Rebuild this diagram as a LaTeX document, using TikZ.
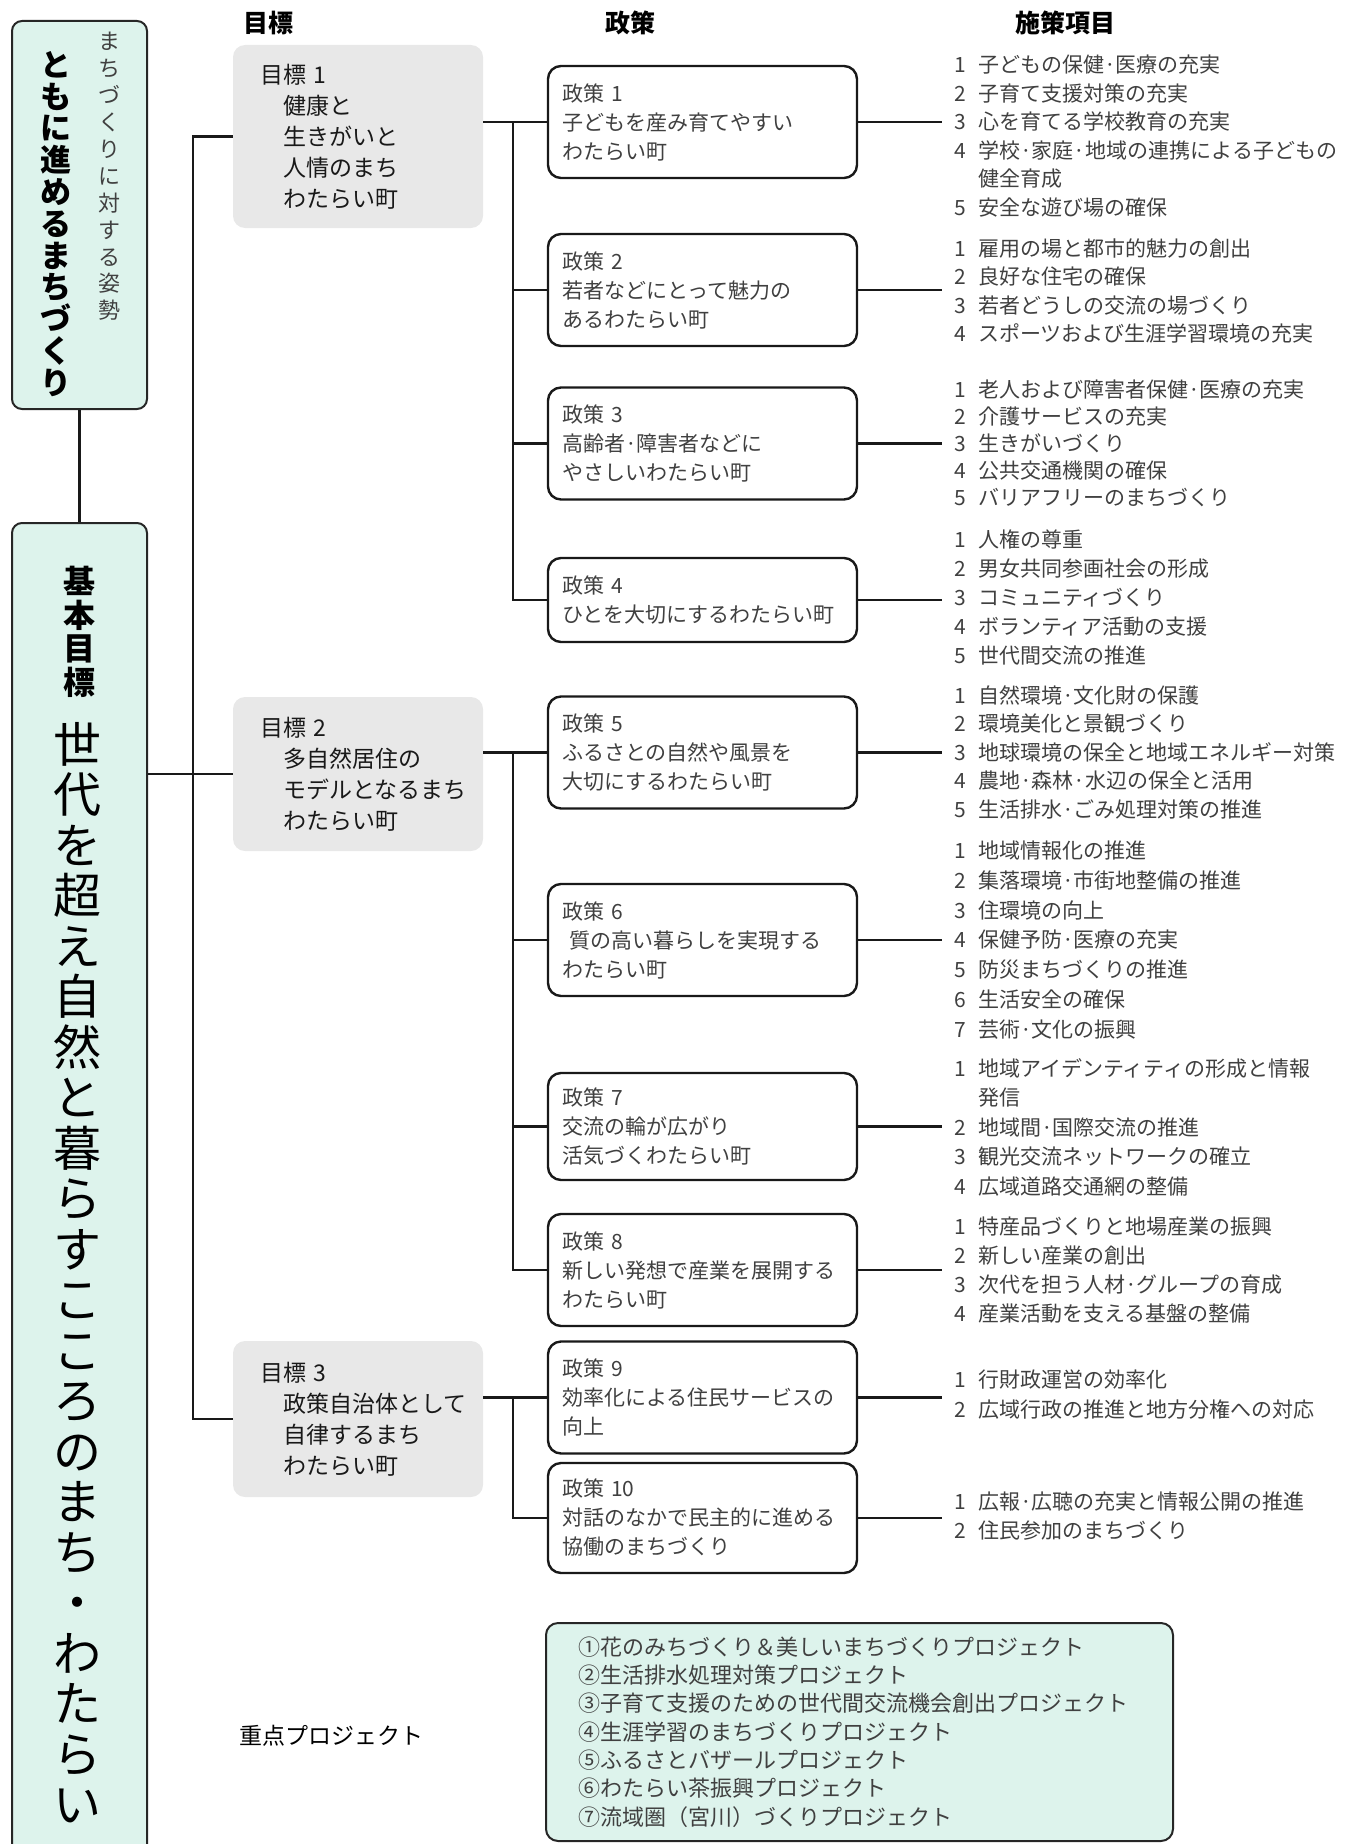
\documentclass[tikz,border=0pt]{standalone}
\usepackage{fontspec}
\setmainfont{Noto Sans CJK JP}
\usepackage{tikz}
\usetikzlibrary{positioning,calc}
\definecolor{mint}{RGB}{221,243,236}
\definecolor{paleg}{RGB}{232,232,232}
\definecolor{txtg}{RGB}{64,64,64}
\newcommand{\itm}[2]{\makebox[24pt][l]{#1}#2}

\begin{document}
\begin{tikzpicture}[x=1pt,y=-1pt,
  lbox/.style={rectangle,draw=black!85,line width=2pt,fill=mint,rounded corners=10pt,minimum width=135pt},
  goal/.style={rectangle,fill=paleg,rounded corners=12pt,text width=196pt,inner xsep=27pt,inner ysep=0pt,align=left,text=black!90,font=\fontsize{23}{31}\selectfont},
  pol/.style={rectangle,draw=black!90,line width=2.4pt,rounded corners=13pt,fill=white,text width=281pt,inner xsep=14pt,inner ysep=0pt,minimum height=112pt,align=left,text=txtg,font=\fontsize{21}{29}\selectfont},
  items/.style={anchor=west,inner xsep=12pt,inner ysep=0pt,align=left,text=txtg,font=\fontsize{21}{28.5}\selectfont},
  head/.style={font=\fontsize{25}{25}\bfseries},
  link/.style={line width=2.2pt,draw=black!90}]
\useasboundingbox (0,0) rectangle (1348,1844);
\clip (0,0) rectangle (1348,1844);
\node [head] (hg) at (268,23) {目標};
\node [head] (hp) at (630,23) {政策};
\node [head] (hi) at (1065,23) {施策項目};
\node [lbox,minimum height=388pt] (kamae) at (79.5,215) {};
\node [align=center,text=txtg,font=\fontsize{22}{26.9}\selectfont] (kamaes) at (109,176.5) {ま\\ち\\づ\\く\\り\\に\\対\\す\\る\\姿\\勢};
\node [align=center,font=\fontsize{31}{31.8}\bfseries] (kamaem) at (56,224) {と\\も\\に\\進\\め\\る\\ま\\ち\\づ\\く\\り};
\node [lbox,minimum height=1347pt] (kihon) at (79.5,1196.5) {};
\node [align=center,font=\fontsize{32}{33.5}\bfseries] (kihonl) at (79,632) {基\\本\\目\\標};
\node [align=center,font=\fontsize{48}{50.5}\selectfont] (kihonm) at (77,1272.5) {世\\代\\を\\超\\え\\自\\然\\と\\暮\\ら\\す\\こ\\こ\\ろ\\の\\ま\\ち\\・\\わ\\た\\ら\\い};
\node [goal,minimum height=183pt] (g1) at (358,136.5) {目標 1\\\hspace*{1em}健康と\\\hspace*{1em}生きがいと\\\hspace*{1em}人情のまち\\\hspace*{1em}わたらい町};
\node [goal,minimum height=154pt] (g2) at (358,774) {目標 2\\\hspace*{1em}多自然居住の\\\hspace*{1em}モデルとなるまち\\\hspace*{1em}わたらい町};
\node [goal,minimum height=156pt] (g3) at (358,1419) {目標 3\\\hspace*{1em}政策自治体として\\\hspace*{1em}自律するまち\\\hspace*{1em}わたらい町};
\node [pol] (p1) at (702.5,122) {政策 1\\子どもを産み育てやすい\\わたらい町};
\node [pol] (p2) at (702.5,290) {政策 2\\若者などにとって魅力の\\あるわたらい町};
\node [pol] (p3) at (702.5,443.5) {政策 3\\高齢者·障害者などに\\やさしいわたらい町};
\node [pol,minimum height=84pt] (p4) at (702.5,600) {政策 4\\ひとを大切にするわたらい町};
\node [pol] (p5) at (702.5,752.5) {政策 5\\ふるさとの自然や風景を\\大切にするわたらい町};
\node [pol] (p6) at (702.5,940) {政策 6\\\hspace*{0.35em}質の高い暮らしを実現する\\わたらい町};
\node [pol,minimum height=107pt] (p7) at (702.5,1126.5) {政策 7\\交流の輪が広がり\\活気づくわたらい町};
\node [pol] (p8) at (702.5,1270) {政策 8\\新しい発想で産業を展開する\\わたらい町};
\node [pol] (p9) at (702.5,1397.5) {政策 9\\効率化による住民サービスの\\向上};
\node [pol,minimum height=110pt] (p10) at (702.5,1518) {政策 10\\対話のなかで民主的に進める\\協働のまちづくり};
\node [items] (i1) at (942,136) {\itm{1}{子どもの保健·医療の充実}\\\itm{2}{子育て支援対策の充実}\\\itm{3}{心を育てる学校教育の充実}\\\itm{4}{学校·家庭·地域の連携による子どもの}\\\itm{}{健全育成}\\\itm{5}{安全な遊び場の確保}};
\node [items] (i2) at (942,291) {\itm{1}{雇用の場と都市的魅力の創出}\\\itm{2}{良好な住宅の確保}\\\itm{3}{若者どうしの交流の場づくり}\\\itm{4}{スポーツおよび生涯学習環境の充実}};
\node [items,font=\fontsize{21}{27}\selectfont] (i3) at (942,443) {\itm{1}{老人および障害者保健·医療の充実}\\\itm{2}{介護サービスの充実}\\\itm{3}{生きがいづくり}\\\itm{4}{公共交通機関の確保}\\\itm{5}{バリアフリーのまちづくり}};
\node [items,font=\fontsize{21}{29}\selectfont] (i4) at (942,598) {\itm{1}{人権の尊重}\\\itm{2}{男女共同参画社会の形成}\\\itm{3}{コミュニティづくり}\\\itm{4}{ボランティア活動の支援}\\\itm{5}{世代間交流の推進}};
\node [items] (i5) at (942,752) {\itm{1}{自然環境·文化財の保護}\\\itm{2}{環境美化と景観づくり}\\\itm{3}{地球環境の保全と地域エネルギー対策}\\\itm{4}{農地·森林·水辺の保全と活用}\\\itm{5}{生活排水·ごみ処理対策の推進}};
\node [items,font=\fontsize{21}{29.8}\selectfont] (i6) at (942,940) {\itm{1}{地域情報化の推進}\\\itm{2}{集落環境·市街地整備の推進}\\\itm{3}{住環境の向上}\\\itm{4}{保健予防·医療の充実}\\\itm{5}{防災まちづくりの推進}\\\itm{6}{生活安全の確保}\\\itm{7}{芸術·文化の振興}};
\node [items,font=\fontsize{21}{29.5}\selectfont] (i7) at (942,1127) {\itm{1}{地域アイデンティティの形成と情報}\\\itm{}{発信}\\\itm{2}{地域間·国際交流の推進}\\\itm{3}{観光交流ネットワークの確立}\\\itm{4}{広域道路交通網の整備}};
\node [items,font=\fontsize{21}{29}\selectfont] (i8) at (942,1270) {\itm{1}{特産品づくりと地場産業の振興}\\\itm{2}{新しい産業の創出}\\\itm{3}{次代を担う人材·グループの育成}\\\itm{4}{産業活動を支える基盤の整備}};
\node [items,font=\fontsize{21}{30}\selectfont] (i9) at (942,1395) {\itm{1}{行財政運営の効率化}\\\itm{2}{広域行政の推進と地方分権への対応}};
\node [items] (i10) at (942,1516) {\itm{1}{広報·広聴の充実と情報公開の推進}\\\itm{2}{住民参加のまちづくり}};
\node [font=\fontsize{23}{23}\selectfont] (jp) at (331,1736) {重点プロジェクト};
\node [rectangle,draw=black!85,line width=2pt,fill=mint,rounded corners=12pt,text width=563pt,inner xsep=32pt,inner ysep=0pt,minimum height=218pt,align=left,text=txtg,font=\fontsize{22}{28.3}\selectfont] (proj) at (859.5,1732) {①花のみちづくり＆美しいまちづくりプロジェクト\\②生活排水処理対策プロジェクト\\③子育て支援のための世代間交流機会創出プロジェクト\\④生涯学習のまちづくりプロジェクト\\⑤ふるさとバザールプロジェクト\\⑥わたらい茶振興プロジェクト\\⑦流域圏（宮川）づくりプロジェクト};
\coordinate (tr) at (193,0);
\coordinate (sp) at (513,0);
\draw[link] (kamae) -- (kihon);
\draw[link] (kihon.east |- g2.west) -- (g2.west);
\draw[link] (g1.west) -| (tr |- g3.west) -- (g3.west);
\draw[link] (g1.east |- p1.west) -- (p1.west);
\draw[link] (sp |- p1.west) |- (p4.west);
\draw[link] (g2.east |- p5.west) -- (p5.west);
\draw[link] (sp |- p5.west) |- (p8.west);
\draw[link] (g3.east |- p9.west) -- (p9.west);
\draw[link] (sp |- p9.west) |- (p10.west);
\foreach \p in {p2,p3,p6,p7}
  \draw[link] (sp |- \p.west) -- (\p.west);
\foreach \i in {1,...,10}
  \draw[link] (p\i.east) -- (i\i.west |- p\i.east);
\end{tikzpicture}
\end{document}
